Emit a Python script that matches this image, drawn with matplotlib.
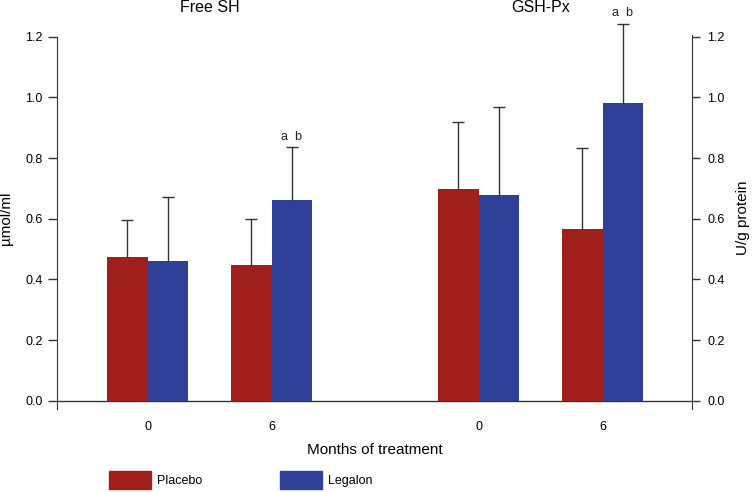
import matplotlib
matplotlib.use("Agg")
import matplotlib.pyplot as plt
from matplotlib.patches import Patch

plt.rcParams["font.family"] = ["Liberation Sans", "DejaVu Sans"]

# data
panels = ["Free SH", "GSH-Px"]
months = ["0", "6", "0", "6"]
placebo = [0.475, 0.447, 0.697, 0.565]
placebo_err = [0.121, 0.153, 0.221, 0.268]
legalon = [0.460, 0.663, 0.678, 0.980]
legalon_err = [0.213, 0.172, 0.292, 0.262]
marks = ["", "a  b", "", "a  b"]

red = "#a01e1c"
blue = "#2e4098"
ink = "#333333"

pos = [0, 1, 2.672, 3.672]
w = 0.327

fig = plt.figure(figsize=(7.55, 4.92), dpi=100)
ax = fig.add_axes([0.0759, 0.1689, 0.841, 0.818])

xp = [p - w / 2 for p in pos]
xl = [p + w / 2 for p in pos]
ax.bar(xp, placebo, w, color=red, label="Placebo")
ax.bar(xl, legalon, w, color=blue, label="Legalon")

# upper error bars only, caps on top
for xs, vals, errs in ((xp, placebo, placebo_err), (xl, legalon, legalon_err)):
    tops = [v + e for v, e in zip(vals, errs)]
    ax.vlines(xs, vals, tops, color=ink, lw=1.0, zorder=3)
    ax.plot(xs, tops, ls="none", marker="_", ms=9, mew=1.0, color=ink,
            zorder=3, clip_on=False)

for p, v, e, m in zip(xl, legalon, legalon_err, marks):
    if m:
        ax.text(p, v + e + 0.035, m, ha="center", va="center",
                fontsize=9, color="#222222")

# panel titles
ax.text((pos[0] + pos[1]) / 2, 1.295, panels[0], ha="center", va="center",
        fontsize=11.5)
ax.text((pos[2] + pos[3]) / 2, 1.295, panels[1], ha="center", va="center",
        fontsize=11.5)

ax.set_xlim(-0.729, 4.396)
ax.set_ylim(-0.027, 1.3)
ax.axhline(0, color=ink, lw=1.0, zorder=0.5)

ax.set_xticks(pos)
ax.set_xticklabels(months, fontsize=9)
ax.tick_params(axis="x", length=0, pad=9)
ax.set_xlabel("Months of treatment", fontsize=11, labelpad=7)

yt = [0.0, 0.2, 0.4, 0.6, 0.8, 1.0, 1.2]
ax.set_yticks(yt)
ax.set_yticklabels([f"{t:.1f}" for t in yt], fontsize=9)
ax.tick_params(axis="y", length=6.5, width=1.0, color=ink, pad=4)
ax.set_ylabel("µmol/ml", fontsize=11)
ax.yaxis.set_label_coords(-0.069, 0.474)

ax2 = ax.twinx()
ax2.set_ylim(ax.get_ylim())
ax2.set_yticks(yt)
ax2.set_yticklabels([f"{t:.1f}" for t in yt], fontsize=9)
ax2.tick_params(axis="y", length=6, width=1.0, color=ink, pad=5)
ax2.set_ylabel("U/g protein", fontsize=11)
ax2.yaxis.set_label_coords(1.069, 0.474)

for a in (ax, ax2):
    for s in ("top", "bottom"):
        a.spines[s].set_visible(False)
ax.spines["right"].set_visible(False)
ax2.spines["left"].set_visible(False)
ax.spines["left"].set_bounds(-0.027, 1.2)
ax2.spines["right"].set_bounds(-0.027, 1.205)
ax.spines["left"].set_color(ink)
ax2.spines["right"].set_color(ink)

handles = [Patch(color=red), Patch(color=blue)]
fig.legend(handles, ["Placebo", "Legalon"], loc="center left",
           bbox_to_anchor=(0.1444, 1 - 480 / 492), ncol=2, frameon=False,
           fontsize=9, borderpad=0, borderaxespad=0, handlelength=3.36,
           handleheight=1.76, handletextpad=0.5, columnspacing=6.2)

fig.savefig("out.png", dpi=100)
